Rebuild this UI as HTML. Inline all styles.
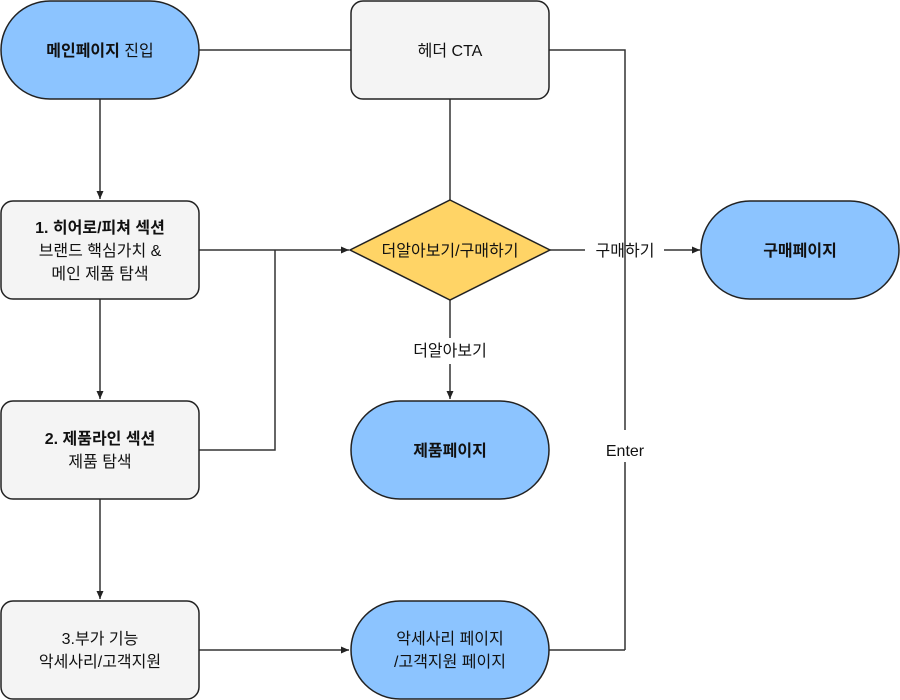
<!DOCTYPE html>
<html><head><meta charset="utf-8"><style>
html,body{margin:0;padding:0;background:#fff;width:900px;height:700px;overflow:hidden}
text{font-family:"Liberation Sans","Noto Sans CJK KR",sans-serif;font-size:16px;fill:#111}
.b{font-weight:bold}
</style></head><body>
<svg width="900" height="700" viewBox="0 0 900 700" xmlns="http://www.w3.org/2000/svg">
<defs><marker id="a" markerWidth="10" markerHeight="10" refX="9" refY="5" orient="auto" markerUnits="userSpaceOnUse"><path d="M1,1.5 L9,5 L1,8.5 Z" fill="#222"/></marker></defs>
<g stroke="#333" stroke-width="1.5" fill="none">
<line x1="100" y1="99" x2="100" y2="199" marker-end="url(#a)"/>
<line x1="199" y1="50" x2="351" y2="50"/>
<polyline points="549,50 625,50 625,430"/>
<line x1="625" y1="462" x2="625" y2="650"/>
<line x1="450" y1="99" x2="450" y2="200"/>
<line x1="199" y1="250" x2="349" y2="250" marker-end="url(#a)"/>
<polyline points="199,450 275,450 275,250"/>
<line x1="100" y1="299" x2="100" y2="399" marker-end="url(#a)"/>
<line x1="100" y1="499" x2="100" y2="599" marker-end="url(#a)"/>
<line x1="550" y1="250" x2="585" y2="250"/>
<line x1="664" y1="250" x2="700" y2="250" marker-end="url(#a)"/>
<line x1="450" y1="300" x2="450" y2="338"/>
<line x1="450" y1="364" x2="450" y2="399" marker-end="url(#a)"/>
<line x1="199" y1="650" x2="349" y2="650" marker-end="url(#a)"/>
<line x1="549" y1="650" x2="625" y2="650"/>
</g>
<g stroke="#222" stroke-width="1.5">
<rect x="1" y="1" width="198" height="98" rx="49" fill="#8cc4ff"/>
<rect x="351" y="1" width="198" height="98" rx="12" fill="#f4f4f4"/>
<polygon points="450,200 550,250 450,300 350,250" fill="#ffd466"/>
<rect x="701" y="201" width="198" height="98" rx="49" fill="#8cc4ff"/>
<rect x="1" y="201" width="198" height="98" rx="12" fill="#f4f4f4"/>
<rect x="1" y="401" width="198" height="98" rx="12" fill="#f4f4f4"/>
<rect x="351" y="401" width="198" height="98" rx="49" fill="#8cc4ff"/>
<rect x="1" y="601" width="198" height="98" rx="12" fill="#f4f4f4"/>
<rect x="351" y="601" width="198" height="98" rx="49" fill="#8cc4ff"/>
</g>
<g text-anchor="middle">
<text x="100" y="56"><tspan class="b">메인페이지</tspan> 진입</text>
<text x="450" y="56">헤더 CTA</text>
<text x="450" y="256">더알아보기/구매하기</text>
<text x="800" y="256" class="b">구매페이지</text>
<text x="100" y="233" class="b">1. 히어로/피쳐 섹션</text>
<text x="100" y="256">브랜드 핵심가치 &amp;</text>
<text x="100" y="279">메인 제품 탐색</text>
<text x="100" y="444" class="b">2. 제품라인 섹션</text>
<text x="100" y="467">제품 탐색</text>
<text x="450" y="456" class="b">제품페이지</text>
<text x="100" y="644">3.부가 기능</text>
<text x="100" y="667">악세사리/고객지원</text>
<text x="450" y="644">악세사리 페이지</text>
<text x="450" y="667">/고객지원 페이지</text>
<text x="625" y="256">구매하기</text>
<text x="450" y="356">더알아보기</text>
<text x="625" y="456">Enter</text>
</g>
</svg>
</body></html>
